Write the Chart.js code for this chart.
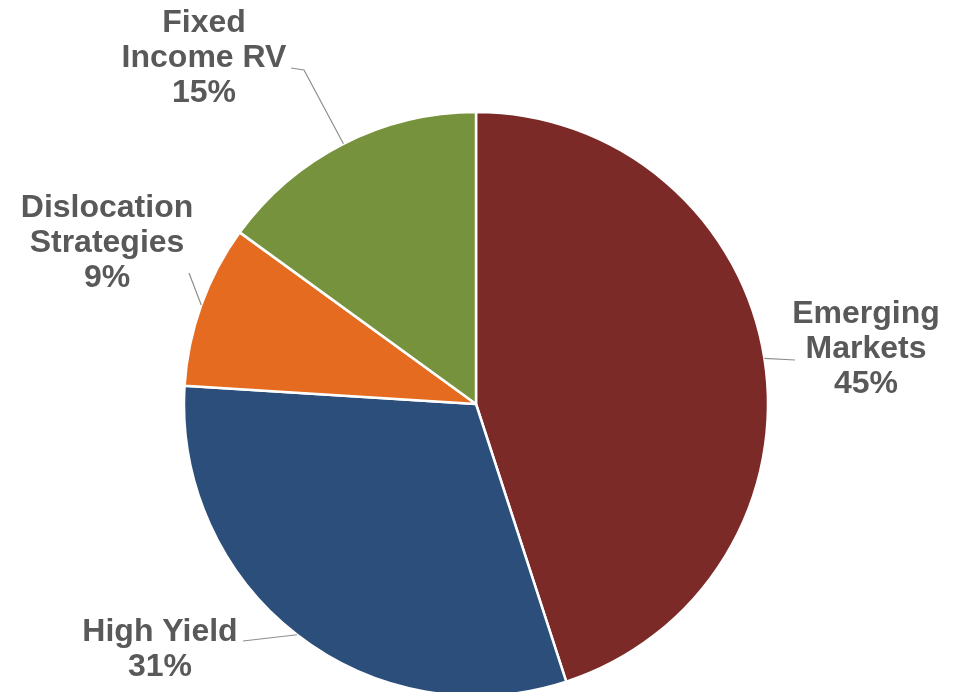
<!DOCTYPE html>
<html>
<head>
<meta charset="utf-8">
<script src="https://cdn.jsdelivr.net/npm/chart.js@4/dist/chart.umd.min.js"></script>
<style>
  html, body { margin: 0; padding: 0; background: #fff; overflow: hidden; }
  #wrap { position: relative; width: 964px; height: 692px; }
</style>
</head>
<body>
<div id="wrap"><canvas id="pie"></canvas></div>
<script>
// allocation by strategy, clockwise from 12 o'clock
var categories = [['Emerging', 'Markets'], ['High Yield'], ['Dislocation', 'Strategies'], ['Fixed', 'Income RV']];
var shares = [45, 31, 9, 15];
var colours = ['#7b2a28', '#2c4e7b', '#e46b1f', '#76923c'];

// where each label sits (centre x, first baseline) and the bend of its leader line
var labelSpots = [
  { x: 866, y: 323, bend: [[795, 360]] },
  { x: 160, y: 641, bend: [[243, 641]] },
  { x: 107, y: 217, bend: [[189, 273]] },
  { x: 204, y: 32, bend: [[304, 70], [291, 68]] }
];

var sliceLabels = {
  id: 'sliceLabels',
  afterDatasetsDraw: function (chart) {
    var ctx = chart.ctx;
    var arcs = chart.getDatasetMeta(0).data;
    ctx.save();
    arcs.forEach(function (arc, i) {
      var p = arc.getProps(['x', 'y', 'startAngle', 'endAngle', 'outerRadius'], true);
      var mid = (p.startAngle + p.endAngle) / 2;
      var sx = p.x + Math.cos(mid) * p.outerRadius;
      var sy = p.y + Math.sin(mid) * p.outerRadius;
      var spot = labelSpots[i];

      ctx.strokeStyle = '#8e8e8e';
      ctx.lineWidth = 1.2;
      ctx.beginPath();
      ctx.moveTo(sx, sy);
      spot.bend.forEach(function (pt) { ctx.lineTo(pt[0], pt[1]); });
      ctx.stroke();

      var lines = categories[i].concat([shares[i] + '%']);
      ctx.fillStyle = '#595959';
      ctx.font = 'bold 32px "Liberation Sans", Arial, sans-serif';
      ctx.textAlign = 'center';
      ctx.textBaseline = 'alphabetic';
      lines.forEach(function (t, k) {
        ctx.fillText(t, spot.x, spot.y + k * 35);
      });
    });
    ctx.restore();
  }
};

new Chart(document.getElementById('pie'), {
  type: 'pie',
  data: {
    labels: categories,
    datasets: [{
      data: shares,
      backgroundColor: colours,
      borderColor: '#ffffff',
      borderWidth: 2.5,
      clip: false
    }]
  },
  options: {
    responsive: true,
    maintainAspectRatio: false,
    animation: false,
    radius: 292,
    layout: { padding: { top: 116, bottom: 0, left: 0, right: 12 } },
    plugins: {
      legend: { display: false },
      tooltip: { enabled: false }
    }
  },
  plugins: [sliceLabels]
});
</script>
</body>
</html>
